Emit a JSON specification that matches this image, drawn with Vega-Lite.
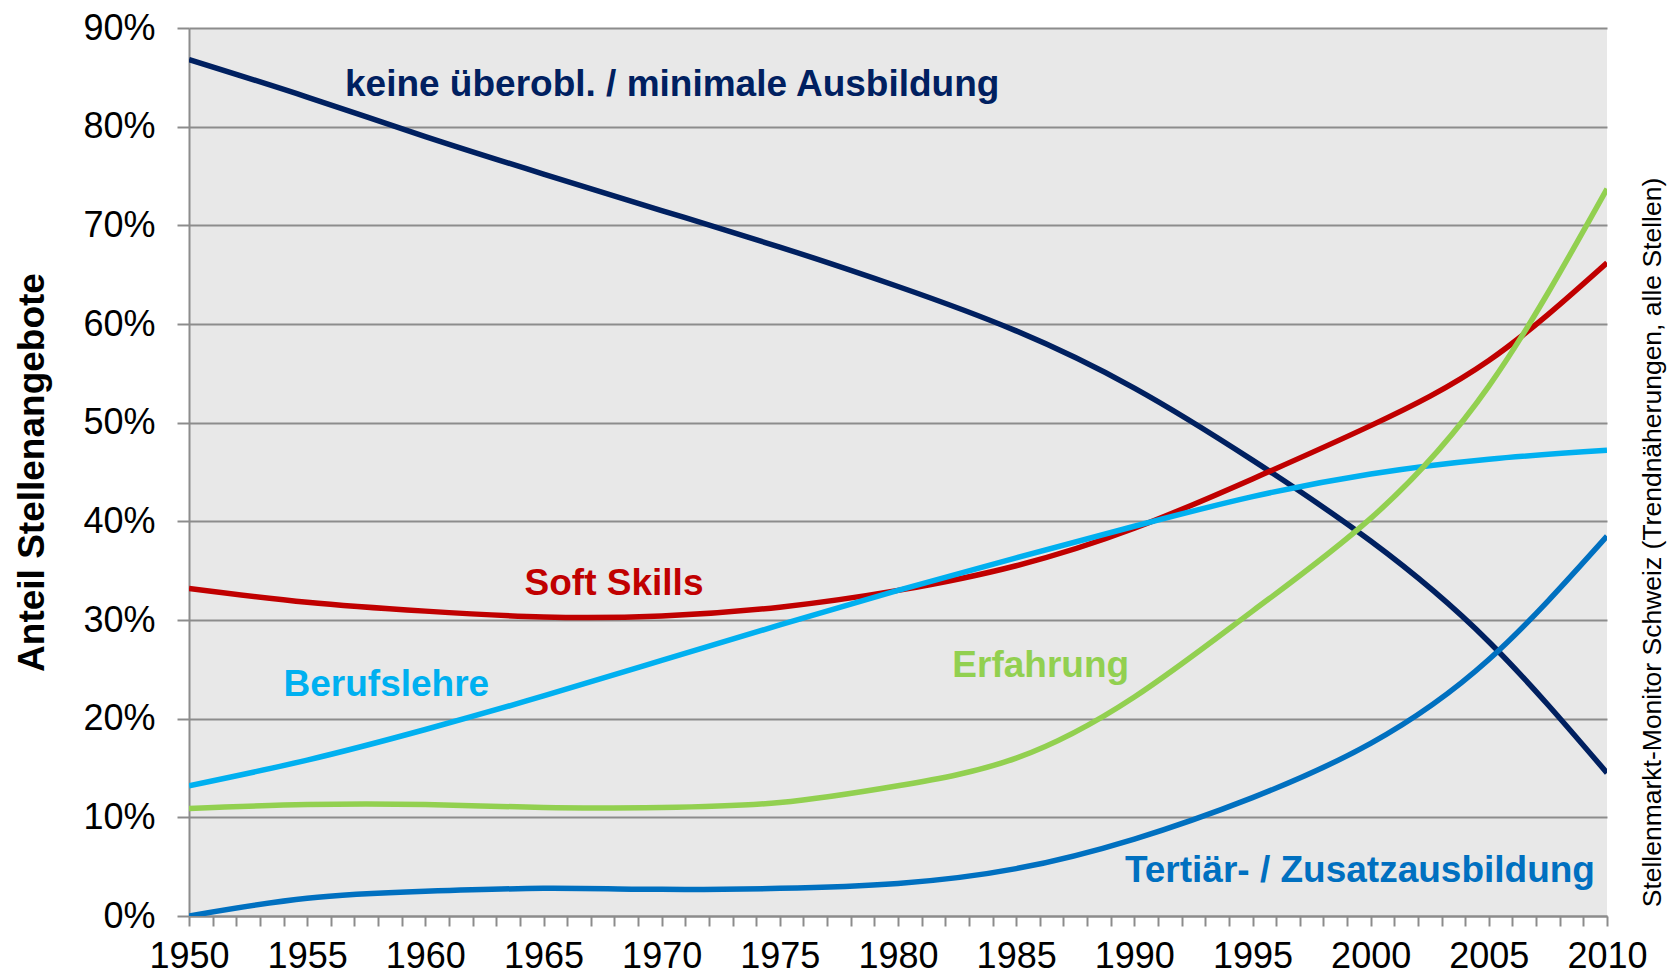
{
  "$schema": "https://vega.github.io/schema/vega-lite/v6.json",
  "width": 1418,
  "height": 888,
  "autosize": "none",
  "padding": {"left": 189, "top": 28, "right": 61, "bottom": 60},
  "background": "white",
  "config": {
    "view": {"fill": "#e8e8e8", "stroke": null},
    "font": "Liberation Sans"
  },
  "datasets": {
    "lines": [
      {"year": 1950, "series": "keine", "value": 0.868},
      {"year": 1955, "series": "keine", "value": 0.830},
      {"year": 1960, "series": "keine", "value": 0.790},
      {"year": 1965, "series": "keine", "value": 0.752},
      {"year": 1970, "series": "keine", "value": 0.715},
      {"year": 1975, "series": "keine", "value": 0.678},
      {"year": 1980, "series": "keine", "value": 0.638},
      {"year": 1985, "series": "keine", "value": 0.593},
      {"year": 1990, "series": "keine", "value": 0.535},
      {"year": 1995, "series": "keine", "value": 0.462},
      {"year": 2000, "series": "keine", "value": 0.380},
      {"year": 2005, "series": "keine", "value": 0.278},
      {"year": 2010, "series": "keine", "value": 0.145},
      {"year": 1950, "series": "soft", "value": 0.332},
      {"year": 1955, "series": "soft", "value": 0.318},
      {"year": 1960, "series": "soft", "value": 0.309},
      {"year": 1965, "series": "soft", "value": 0.303},
      {"year": 1970, "series": "soft", "value": 0.304},
      {"year": 1975, "series": "soft", "value": 0.313},
      {"year": 1980, "series": "soft", "value": 0.330},
      {"year": 1985, "series": "soft", "value": 0.355},
      {"year": 1990, "series": "soft", "value": 0.393},
      {"year": 1995, "series": "soft", "value": 0.443},
      {"year": 2000, "series": "soft", "value": 0.497},
      {"year": 2005, "series": "soft", "value": 0.563},
      {"year": 2010, "series": "soft", "value": 0.662},
      {"year": 1950, "series": "beruf", "value": 0.132},
      {"year": 1955, "series": "beruf", "value": 0.158},
      {"year": 1960, "series": "beruf", "value": 0.189},
      {"year": 1965, "series": "beruf", "value": 0.223},
      {"year": 1970, "series": "beruf", "value": 0.259},
      {"year": 1975, "series": "beruf", "value": 0.295},
      {"year": 1980, "series": "beruf", "value": 0.330},
      {"year": 1985, "series": "beruf", "value": 0.363},
      {"year": 1990, "series": "beruf", "value": 0.395},
      {"year": 1995, "series": "beruf", "value": 0.425},
      {"year": 2000, "series": "beruf", "value": 0.448},
      {"year": 2005, "series": "beruf", "value": 0.463},
      {"year": 2010, "series": "beruf", "value": 0.472},
      {"year": 1950, "series": "erf", "value": 0.109},
      {"year": 1955, "series": "erf", "value": 0.113},
      {"year": 1960, "series": "erf", "value": 0.113},
      {"year": 1965, "series": "erf", "value": 0.110},
      {"year": 1970, "series": "erf", "value": 0.110},
      {"year": 1975, "series": "erf", "value": 0.115},
      {"year": 1980, "series": "erf", "value": 0.132},
      {"year": 1985, "series": "erf", "value": 0.160},
      {"year": 1990, "series": "erf", "value": 0.222},
      {"year": 1995, "series": "erf", "value": 0.309},
      {"year": 2000, "series": "erf", "value": 0.403},
      {"year": 2005, "series": "erf", "value": 0.537},
      {"year": 2010, "series": "erf", "value": 0.737},
      {"year": 1950, "series": "tert", "value": 0.0},
      {"year": 1955, "series": "tert", "value": 0.018},
      {"year": 1960, "series": "tert", "value": 0.025},
      {"year": 1965, "series": "tert", "value": 0.028},
      {"year": 1970, "series": "tert", "value": 0.027},
      {"year": 1975, "series": "tert", "value": 0.028},
      {"year": 1980, "series": "tert", "value": 0.033},
      {"year": 1985, "series": "tert", "value": 0.048},
      {"year": 1990, "series": "tert", "value": 0.078},
      {"year": 1995, "series": "tert", "value": 0.120},
      {"year": 2000, "series": "tert", "value": 0.175},
      {"year": 2005, "series": "tert", "value": 0.260},
      {"year": 2010, "series": "tert", "value": 0.385}
    ],
    "labels": [
      {"year": 1956.6, "value": 0.842, "series": "keine", "label": "keine überobl. / minimale Ausbildung"},
      {"year": 1964.2, "value": 0.336, "series": "soft", "label": "Soft Skills"},
      {"year": 1954.0, "value": 0.234, "series": "beruf", "label": "Berufslehre"},
      {"year": 1982.3, "value": 0.253, "series": "erf", "label": "Erfahrung"},
      {"year": 1989.6, "value": 0.0455, "series": "tert", "label": "Tertiär- / Zusatzausbildung"}
    ]
  },
  "resolve": {"axis": {"y": "independent"}},
  "encoding": {
    "x": {
      "field": "year", "type": "quantitative",
      "scale": {"domain": [1950, 2010], "nice": false, "zero": false},
      "axis": {
        "title": null,
        "values": [1950,1951,1952,1953,1954,1955,1956,1957,1958,1959,1960,1961,1962,1963,1964,1965,1966,1967,1968,1969,1970,1971,1972,1973,1974,1975,1976,1977,1978,1979,1980,1981,1982,1983,1984,1985,1986,1987,1988,1989,1990,1991,1992,1993,1994,1995,1996,1997,1998,1999,2000,2001,2002,2003,2004,2005,2006,2007,2008,2009,2010],
        "labelExpr": "datum.value % 5 === 0 ? format(datum.value, 'd') : ''",
        "grid": false,
        "domainColor": "#8c8c8c",
        "domainWidth": 2,
        "tickColor": "#8c8c8c",
        "tickWidth": 2,
        "tickSize": 10,
        "labelFontSize": 36,
        "labelColor": "#000000",
        "labelPadding": 13,
        "labelFont": "Liberation Sans",
        "labelOverlap": false,
        "labelFlush": false
      }
    },
    "color": {
      "field": "series", "type": "nominal",
      "scale": {"domain": ["keine", "soft", "beruf", "erf", "tert"], "range": ["#002060", "#c00000", "#00b0f0", "#92d050", "#0070c0"]},
      "legend": null
    }
  },
  "layer": [
    {
      "data": {"name": "lines"},
      "mark": {"type": "line", "interpolate": "natural", "strokeWidth": 5.5, "clip": true},
      "encoding": {
        "y": {
          "field": "value", "type": "quantitative",
          "scale": {"domain": [0, 0.9], "nice": false},
          "axis": {
            "title": "Anteil Stellenangebote",
            "titleFontSize": 37,
            "titleFontWeight": "bold",
            "titleFont": "Liberation Sans",
            "titleColor": "#000000",
            "titleAngle": -90,
            "titleX": -157,
            "titleY": 444,
            "titleAlign": "center",
            "titleBaseline": "middle",
            "values": [0, 0.1, 0.2, 0.3, 0.4, 0.5, 0.6, 0.7, 0.8, 0.9],
            "format": ".0%",
            "grid": true,
            "gridColor": "#8c8c8c",
            "gridWidth": 2,
            "domainColor": "#8c8c8c",
            "domainWidth": 2,
            "tickColor": "#8c8c8c",
            "tickWidth": 2,
            "tickSize": 12,
            "labelFontSize": 36,
            "labelColor": "#000000",
            "labelPadding": 22,
            "labelFont": "Liberation Sans"
          }
        },
        "detail": {"field": "series"}
      }
    },
    {
      "data": {"name": "labels"},
      "mark": {"type": "text", "align": "left", "baseline": "middle", "fontSize": 37, "fontWeight": "bold", "font": "Liberation Sans"},
      "encoding": {
        "y": {
          "field": "value", "type": "quantitative",
          "scale": {"domain": [0, 0.9], "nice": false},
          "axis": {
            "orient": "right",
            "title": "Stellenmarkt-Monitor Schweiz (Trendnäherungen, alle Stellen)",
            "titleFontSize": 26.5,
            "titleFontWeight": "normal",
            "titleFont": "Liberation Sans",
            "titleColor": "#000000",
            "titleAngle": -90,
            "titleX": 45,
            "titleY": 514,
            "titleAlign": "center",
            "titleBaseline": "middle",
            "labels": false,
            "ticks": false,
            "domain": false,
            "grid": false
          }
        },
        "text": {"field": "label"}
      }
    }
  ]
}
